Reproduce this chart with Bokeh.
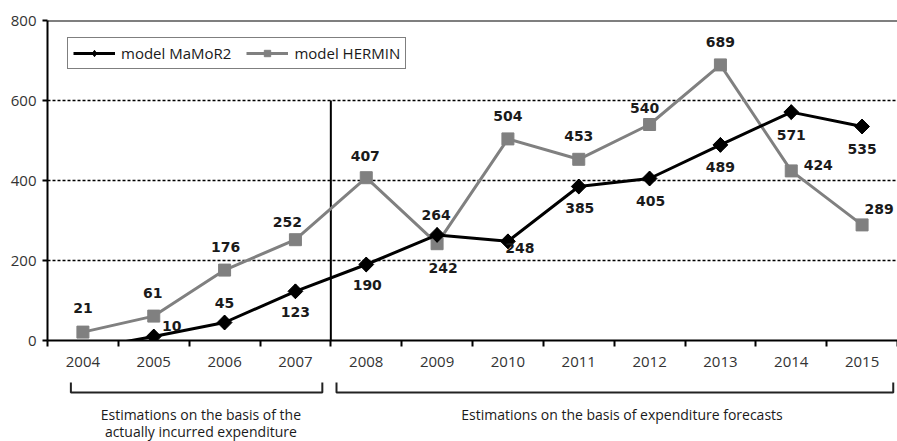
import math
from bokeh.plotting import figure
from bokeh.models import ColumnDataSource, FixedTicker, Span, Legend, LegendItem
from bokeh.layouts import column
from bokeh.core.properties import value
from bokeh.embed import file_html
from bokeh.resources import INLINE

# ---- data ----
years = ["2004", "2005", "2006", "2007", "2008", "2009", "2010", "2011", "2012", "2013", "2014", "2015"]
mamor2 = [-22, 10, 45, 123, 190, 264, 248, 385, 405, 489, 571, 535]
hermin = [21, 61, 176, 252, 407, 242, 504, 453, 540, 689, 424, 289]
y_ticks = [0, 200, 400, 600, 800]
grid_ticks = [200, 400, 600]
legend_labels = ["model MaMoR2", "model HERMIN"]
period_texts = [["Estimations on the basis of the", "actually incurred expenditure"],
                ["Estimations on the basis of expenditure forecasts"]]
period_years = [("2004", "2007"), ("2008", "2015")]
split_year = "2008"

# ---- label offsets (pixels; style only) ----
herm_dx = [0, -1, 1, -8, -1, 6, 0, 0, -5, 0, 27, 17]
herm_dy = [-24, -23, -23, -18, -22, 24, -23, -23, -17, -23, -6, -16]
mam_dx = [0, 18, 0, 0, 1, -1, 12, 1, 1, 0, 0, 0]
mam_dy = [0, -11, -20, 21, 20, -20, 7, 21, 22, 22, 23, 22]

xs = [i + 0.5 for i in range(len(years))]
n = len(years)

FONT = "Open Sans"
LBL_FONT = value("DejaVu Sans")
GREY = "#808080"

p = figure(width=897, height=375, x_range=(0, n), y_range=(0, 800),
           output_backend="svg", toolbar_location=None,
           min_border_left=47, min_border_right=0, min_border_top=20, min_border_bottom=35)
p.outline_line_color = None
p.xgrid.visible = False
p.ygrid.ticker = FixedTicker(ticks=grid_ticks)
p.ygrid.grid_line_color = "black"
p.ygrid.grid_line_dash = "3 2"
p.ygrid.grid_line_width = 1.5

# y axis
p.yaxis.ticker = FixedTicker(ticks=y_ticks, minor_ticks=[])
p.yaxis.major_tick_out = 5
p.yaxis.major_tick_in = 0
p.yaxis.major_tick_line_width = 2
p.yaxis.axis_line_width = 2
p.yaxis.major_label_text_font = FONT
p.yaxis.major_label_text_font_size = "15px"
p.yaxis.major_label_text_color = "#333333"
p.yaxis.major_label_standoff = 6

# x axis: labels at centres, ticks at boundaries
p.xaxis.ticker = FixedTicker(ticks=xs, minor_ticks=list(range(0, n + 1)))
p.xaxis.major_label_overrides = {xi: y for xi, y in zip(xs, years)}
p.xaxis.major_tick_out = 0
p.xaxis.major_tick_in = 0
p.xaxis.minor_tick_out = 6
p.xaxis.minor_tick_in = 0
p.xaxis.minor_tick_line_color = "black"
p.xaxis.minor_tick_line_width = 2
p.xaxis.axis_line_width = 2
p.xaxis.major_label_text_font = FONT
p.xaxis.major_label_text_font_size = "15px"
p.xaxis.major_label_text_color = "#333333"
p.xaxis.major_label_standoff = 10

p.add_layout(Span(location=800, dimension="width", line_color="black", line_width=2))

split = years.index(split_year)
p.segment(x0=[split], y0=[0], x1=[split], y1=[600], line_color="black", line_width=2)

src = ColumnDataSource(dict(x=xs, hermin=hermin, mamor2=mamor2,
                            hl=[str(v) for v in hermin], ml=[str(v) if v > 0 else "" for v in mamor2],
                            hdx=herm_dx, hdy=herm_dy, mdx=mam_dx, mdy=mam_dy))
pos = [i for i, v in enumerate(mamor2) if v >= 0]
msrc = ColumnDataSource(dict(x=[xs[i] for i in pos], y=[mamor2[i] for i in pos]))

hl = p.line("x", "hermin", source=src, line_color=GREY, line_width=3)
hs = p.scatter("x", "hermin", source=src, marker="square", size=12, color=GREY)
ml = p.line("x", "mamor2", source=src, line_color="black", line_width=3)
# diamond used for the legend key (hidden beneath the rotated squares in the plot)
md = p.scatter("x", "y", source=msrc, marker="diamond", size=14.5, color="black")
ms = p.scatter("x", "y", source=msrc, marker="square", angle=math.pi / 4, size=10.5, color="black")

p.text("x", "hermin", text="hl", source=src, x_offset="hdx", y_offset="hdy",
       text_font=LBL_FONT, text_font_style="bold", text_font_size="14px",
       text_align="center", text_baseline="middle", text_color="#1a1a1a")
p.text("x", "mamor2", text="ml", source=src, x_offset="mdx", y_offset="mdy",
       text_font=LBL_FONT, text_font_style="bold", text_font_size="14px",
       text_align="center", text_baseline="middle", text_color="#1a1a1a")

legend = Legend(items=[LegendItem(label=legend_labels[0], renderers=[ml, md]),
                       LegendItem(label=legend_labels[1], renderers=[hl, hs])],
                orientation="horizontal", location=(20, 271))
legend.border_line_color = "black"
legend.border_line_width = 1.5
legend.padding = 5
legend.margin = 0
legend.spacing = 15
legend.glyph_width = 42
legend.glyph_height = 16
legend.label_height = 16
legend.label_standoff = 6
legend.label_text_font = FONT
legend.label_text_font_size = "15px"
legend.label_text_color = "#1a1a1a"
legend.background_fill_alpha = 1
p.add_layout(legend)

# ---- bottom strip with period brackets ----
p2 = figure(width=897, height=66, x_range=p.x_range, y_range=(0, 66),
            output_backend="svg", toolbar_location=None,
            x_axis_type=None, y_axis_type=None,
            min_border_left=47, min_border_right=0, min_border_top=0, min_border_bottom=0)
p2.outline_line_color = None
p2.grid.visible = False

inset_l = [0.33, 0.08]
inset_r = [0.12, 0.06]
bxs, bys = [], []
tx, ty, tt = [], [], []
text_shift = [0.06, 0.1]
for k, (a, b) in enumerate(period_years):
    x0 = years.index(a) + inset_l[k]
    x1 = years.index(b) + 1 - inset_r[k]
    bxs.append([x0, x0, x1, x1])
    bys.append([59, 49, 49, 59])
    for j, line in enumerate(period_texts[k]):
        tx.append((x0 + x1) / 2 + text_shift[k])
        ty.append(27 - 17 * j)
        tt.append(line)

p2.multi_line(xs=bxs, ys=bys, line_color="#222222", line_width=2)
p2.text(x=tx, y=ty, text=tt, text_font=value(FONT), text_font_size="14px",
        text_align="center", text_baseline="middle", text_color="#1a1a1a")

layout = column(p, p2, spacing=0)
open("out.html", "w").write(file_html(layout, INLINE))
